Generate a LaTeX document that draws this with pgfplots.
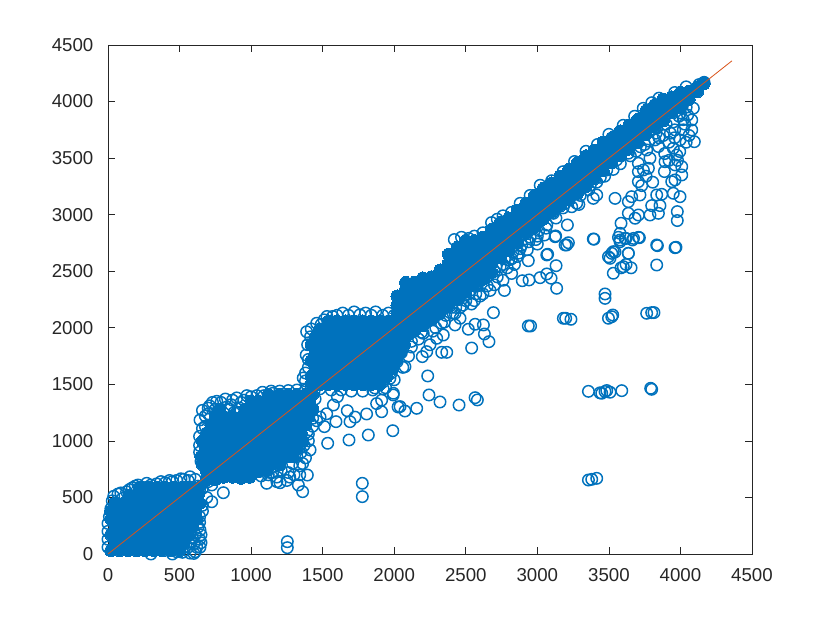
\documentclass[border=0pt]{standalone}
\usepackage{fontspec}
\setmainfont{Liberation Sans}
\usepackage{pgfplots}
\pgfplotsset{compat=1.18}
\definecolor{mblue}{rgb}{0,0.447,0.741}
\definecolor{morange}{rgb}{0.851,0.325,0.098}
\definecolor{axgrey}{rgb}{0.15,0.15,0.15}
\begin{document}
\begin{tikzpicture}
\useasboundingbox (-81pt,-51.75pt) rectangle (541.5pt,415.5pt);
\begin{axis}[
    scale only axis, width=483pt, height=381.75pt,
    xmin=0, xmax=4500, ymin=0, ymax=4500,
    xtick={0,500,...,4500}, ytick={0,500,...,4500},
    tick align=inside, major tick length=5pt,
    axis line style={axgrey, line width=0.5pt},
    every tick/.style={axgrey, line width=0.5pt},
    tick label style={text=axgrey, font=\fontsize{14}{16}\selectfont},
    xticklabel style={yshift=-7.5pt},
    yticklabel style={xshift=-7.5pt},
    /pgf/number format/assume math mode=true,
    /pgf/number format/1000 sep={},
    clip mode=individual,
]
% saturated interior of the cloud, where single circles cannot be told apart: solid marks
\addplot[only marks, mark=*, mark size=4.6pt, mblue, mark options={draw=mblue, fill=mblue, line width=0pt}] coordinates {
(20,30)(80,30)(140,30)(200,30)(260,30)(320,30)(380,30)(440,30)(500,30)
(50,100)(110,100)(170,100)(230,100)(290,100)(350,100)(410,100)(470,100)(530,100)
(20,170)(80,170)(140,170)(200,170)(260,170)(320,170)(380,170)(440,170)(500,170)(560,170)
(50,240)(110,240)(170,240)(230,240)(290,240)(350,240)(410,240)(470,240)(530,240)(590,240)
(20,310)(80,310)(140,310)(200,310)(260,310)(320,310)(380,310)(440,310)(500,310)(560,310)(620,310)
(20,380)(70,380)(130,380)(190,380)(250,380)(310,380)(370,380)(430,380)(490,380)(550,380)(610,380)
(50,450)(110,450)(170,450)(230,450)(290,450)(350,450)(410,450)(470,450)(530,450)(590,450)(640,450)
(150,520)(210,520)(270,520)(330,520)(390,520)(450,520)(510,520)(570,520)(630,520)
(220,590)(280,590)(340,590)(400,590)(460,590)(520,590)(580,590)(640,590)
(690,660)(750,660)(810,680)(870,680)(930,670)(990,680)
(690,730)(750,730)(810,730)(870,730)(930,730)(990,730)(1050,730)(1110,740)
(660,790)(720,790)(780,790)(840,790)(900,790)(960,790)(1020,790)(1080,790)(1140,790)(1200,790)
(650,860)(710,860)(770,860)(830,860)(890,860)(950,860)(1010,860)(1070,860)(1130,860)(1190,860)(1250,860)(1290,860)
(680,930)(740,930)(800,930)(860,930)(920,930)(980,930)(1040,930)(1100,930)(1160,930)(1220,930)(1280,930)(1320,930)
(660,1000)(720,1000)(780,1000)(840,1000)(900,1000)(960,1000)(1020,1000)(1080,1000)(1140,1000)(1200,1000)(1260,1000)(1320,1000)(1360,1000)
(690,1070)(750,1070)(810,1070)(870,1070)(930,1070)(990,1070)(1050,1070)(1110,1070)(1170,1070)(1230,1070)(1290,1070)(1350,1070)
(720,1140)(780,1140)(840,1140)(900,1140)(960,1140)(1020,1140)(1080,1140)(1140,1140)(1200,1140)(1260,1140)(1320,1140)(1380,1140)
(750,1210)(810,1210)(870,1210)(930,1210)(990,1210)(1050,1210)(1110,1210)(1170,1210)(1230,1210)(1290,1210)(1350,1210)(1400,1210)
(780,1280)(960,1280)(1020,1280)(1080,1280)(1140,1280)(1200,1280)(1260,1280)(1320,1280)(1380,1280)(1430,1280)
(1000,1350)(1050,1350)(1110,1350)(1170,1350)(1230,1350)(1290,1350)(1350,1350)(1410,1350)
(1120,1410)(1200,1410)(1260,1410)(1320,1410)(1380,1410)(1430,1410)
(1420,1500)(1480,1500)(1540,1500)(1600,1500)(1660,1500)(1720,1500)(1780,1500)(1840,1500)(1900,1500)
(1420,1570)(1480,1570)(1540,1570)(1600,1570)(1660,1570)(1720,1570)(1780,1570)(1840,1570)(1900,1570)(1950,1570)
(1450,1640)(1510,1640)(1570,1640)(1630,1640)(1690,1640)(1750,1640)(1810,1640)(1870,1640)(1930,1640)(1990,1640)
(1420,1710)(1480,1710)(1540,1710)(1600,1710)(1660,1710)(1720,1710)(1780,1710)(1840,1710)(1900,1710)(1960,1710)(2010,1710)
(1450,1780)(1510,1780)(1570,1780)(1630,1780)(1690,1780)(1750,1780)(1810,1780)(1870,1780)(1930,1780)(1990,1780)(2040,1780)
(1420,1850)(1480,1850)(1540,1850)(1600,1850)(1660,1850)(1720,1850)(1780,1850)(1840,1850)(1900,1850)(1960,1850)(2020,1850)(2070,1850)
(1450,1920)(1510,1920)(1570,1920)(1630,1920)(1690,1920)(1750,1920)(1810,1920)(1870,1920)(1930,1920)(1990,1920)(2050,1920)
(1480,1990)(1560,1990)(1620,1990)(1680,1990)(1740,1990)(1800,1990)(1860,1990)(1920,1990)(1980,1990)(2040,1990)
(1540,2060)(1600,2060)(1660,2060)(1720,2060)(1780,2060)(1840,2060)(1900,2060)(1960,2060)(2020,2060)
(2020,2130)(2020,2200)(2020,2280)
(2080,1920)(2080,1980)(2080,2050)(2080,2120)(2080,2190)(2080,2260)(2080,2340)(2080,2400)
(2140,1970)(2140,2040)(2140,2110)(2140,2180)(2140,2250)(2140,2320)(2140,2400)
(2200,2020)(2200,2090)(2200,2180)(2200,2250)(2200,2320)(2200,2390)(2200,2440)
(2260,2070)(2260,2150)(2260,2240)(2260,2310)(2260,2380)(2260,2450)
(2320,2130)(2320,2210)(2320,2300)(2320,2370)(2320,2440)(2320,2510)
(2380,2190)(2380,2270)(2380,2360)(2380,2430)(2380,2500)(2380,2570)(2380,2650)
(2440,2250)(2440,2330)(2440,2420)(2440,2490)(2440,2560)(2440,2630)(2440,2710)
(2500,2320)(2500,2400)(2500,2490)(2500,2560)(2500,2630)(2500,2700)(2500,2770)
(2560,2380)(2560,2460)(2560,2550)(2560,2620)(2560,2690)(2560,2770)
(2620,2430)(2620,2510)(2620,2600)(2620,2670)(2620,2740)(2620,2800)
(2680,2490)(2680,2570)(2680,2660)(2680,2730)(2680,2800)(2680,2870)
(2740,2620)(2740,2710)(2740,2780)(2740,2850)(2740,2930)
(2800,2680)(2800,2770)(2800,2840)(2800,2910)(2800,2970)
(2860,2750)(2860,2840)(2860,2910)(2860,2980)(2860,3040)
(2920,2830)(2920,2900)(2920,2970)(2920,3040)(2920,3100)
(2980,2890)(2980,2960)(2980,3030)(2980,3100)(2980,3170)
(3040,2960)(3040,3030)(3040,3100)(3040,3170)(3040,3230)
(3100,3020)(3100,3090)(3100,3160)(3100,3230)(3100,3280)
(3160,3080)(3160,3150)(3160,3220)(3160,3290)(3160,3340)
(3220,3130)(3220,3200)(3220,3270)(3220,3340)(3220,3400)
(3280,3190)(3280,3260)(3280,3330)(3280,3400)(3280,3460)
(3340,3250)(3340,3320)(3340,3390)(3340,3460)(3340,3520)
(3400,3320)(3400,3390)(3400,3460)(3400,3530)(3400,3570)
(3460,3390)(3460,3460)(3460,3530)(3460,3600)(3460,3640)
(3520,3460)(3520,3530)(3520,3600)(3520,3680)
(3580,3520)(3580,3590)(3580,3660)(3580,3740)
(3640,3580)(3640,3650)(3640,3720)(3640,3790)
(3700,3640)(3700,3710)(3700,3780)(3700,3840)
(3760,3710)(3760,3780)(3760,3850)(3760,3920)
(3820,3780)(3820,3850)(3820,3920)(3820,3970)
(3880,3830)(3880,3900)(3880,3970)(3880,4020)
(3940,3900)(3940,3970)(3940,4040)
(4000,3950)(4000,4020)(4000,4080)
(4060,4020)(4060,4090)
(4120,4090)(4120,4130)
(4165,4160)
};
% separate points along the edges and below the band
\addplot[only marks, mark=o, mark size=4.3pt, mblue, mark options={draw=mblue, line width=1.1pt}] coordinates {
(0,60)(0,130)(0,200)(0,270)(10,330)(20,400)(30,470)(40,510)(70,530)(100,490)(150,570)(190,600)(240,590)(300,610)(340,620)(400,630)(450,640)(480,650)(530,660)(573,683)(610,660)(630,600)(90,540)(130,550)(170,585)(210,610)(270,625)(370,640)(430,650)(510,665)(560,650)
(660,580)(700,640)(725,610)(725,462)(806,542)(690,500)(660,430)(640,330)(643,212)(643,60)(573,8)(610,20)(520,15)(480,20)(640,130)(600,90)(560,60)(610,170)(590,140)(480,60)(520,50)(560,160)(640,280)(660,380)(630,240)(650,170)(620,60)(580,110)(650,100)
(100,-5)(200,-5)(300,0)(400,-5)(450,0)(520,-5)(600,5)(50,-5)(150,-5)(250,-5)(350,-5)(560,-5)
(1253,109)(1253,56)(1777,625)(1777,507)
(643,1185)(660,1270)(680,1130)(700,1240)(710,1310)(750,1280)(790,1340)(830,1300)(870,1360)(920,1290)(950,1360)(1000,1390)(1090,1400)(1150,1420)(880,1250)(680,1220)(730,1340)(760,1350)(820,1370)(860,1320)(900,1380)(930,1340)(970,1400)(1040,1400)(1080,1430)(1140,1440)(1200,1440)(1260,1445)(1320,1450)(1380,1450)(1440,1440)(700,1290)(850,1280)(910,1250)(1000,1320)
(640,900)(650,820)(700,760)(780,720)(900,690)(990,680)(1060,730)(1109,625)(1202,630)(1330,610)(1360,551)(1393,698)(1412,920)(1380,850)(1340,780)(1260,720)(1180,680)(1120,700)(1250,650)(1300,700)(1360,800)(1400,1000)(1370,960)(1390,1080)(1430,1130)(640,960)(640,1040)(660,1110)(1150,720)(1210,740)(1290,800)(1320,860)(1350,900)(1070,690)(1180,640)(1270,680)(1340,700)(1400,1060)(1430,1200)
(1535,979)(1684,1008)(1819,1052)(1990,1090)(1807,1238)(1691,1170)(1726,1210)(1672,1267)(1593,1170)(1512,1126)(1458,1178)(1482,1210)(1528,1240)(1575,1317)(1603,1391)(1447,1370)(1912,1258)(1877,1330)(1912,1360)(1923,1459)(1865,1468)(1993,1406)(2027,1300)
(1364,1556)(1400,1650)(1385,1760)(1395,1850)(1388,1965)(1415,1920)(1458,2040)(1510,2070)(1570,2100)(1640,2130)(1720,2140)(1800,2130)(1870,2140)(1960,2130)(2040,2130)(1380,1600)(1400,1720)(1420,1990)(1490,2030)(1530,2100)(1600,2110)(1680,2110)(1760,2115)(1840,2110)(1920,2110)(2000,2110)
(1480,1460)(1560,1450)(1630,1450)(1700,1440)(1780,1440)(1850,1450)(1920,1520)(1980,1600)(2020,1700)(2050,1780)(1940,1470)(2000,1540)(2060,1650)(2100,1750)(1380,1530)
(2157,1288)(2075,1264)(2041,1303)(2243,1406)(2320,1344)(2453,1317)(2565,1382)(2581,1362)(2234,1574)(2541,1821)(2662,1877)(2630,1945)(2623,2025)(2565,2031)(2518,1987)(2425,2025)(2367,1783)(2332,1783)(2196,1745)(2227,1789)(2460,2084)(2425,2128)(2297,1907)(2343,1936)(2203,1951)(2075,1656)(1970,1553)(1994,1421)(2693,2134)
(2120,1830)(2170,1900)(2250,1850)(2290,2000)(2350,2050)(2400,2180)(2450,2250)(2520,2300)(2580,2370)(2640,2440)(2700,2500)(2760,2560)(2820,2610)(2880,2700)(2940,2760)(3000,2810)(3060,2880)(2150,2000)(2240,2060)(2310,2120)(2390,2230)(2480,2200)(2560,2240)(2620,2300)(2700,2380)(2760,2420)(2820,2480)(2770,2330)(2840,2560)
(2060,1900)(2110,1950)(2180,2020)(2230,2100)(2280,2140)(2350,2170)(2420,2270)(2470,2320)(2530,2370)(2590,2430)(2650,2490)(2710,2540)(2770,2610)(2830,2670)(2890,2730)(2950,2800)(2030,1960)(2070,2020)
(2120,1880)(2190,1960)(2270,1970)(2360,2110)(2430,2180)(2500,2240)(2570,2300)(2650,2370)(2720,2450)(2790,2530)(2860,2630)(2930,2690)(3000,2740)(2740,2540)(2800,2600)(2870,2660)(2990,2780)(3050,2820)(2410,2130)(2540,2210)(2600,2280)(2670,2330)(2330,2040)(2460,2180)
(2937,2016)(2953,2016)(2895,2416)(2942,2423)(3019,2443)(3066,2476)(3096,2438)(3135,2349)(3072,2650)(3131,2549)(2937,2593)(3128,2812)(3194,2732)(3217,2752)(3391,2785)(3182,2084)(3198,2084)(3235,2075)
(3520,2098)(3497,2084)(3527,2113)(3764,2128)(3799,2134)(3815,2134)(3473,2299)(3473,2260)(3834,2555)(3834,2732)(3962,2708)
(3601,2540)(3531,2482)(3585,2530)(3620,2560)(3655,2530)(3636,2658)(3520,2658)(3508,2614)(3543,2670)(3578,2761)(3613,2790)(3567,2800)(3672,2790)(3707,2800)
(3357,1438)(3450,1421)(3473,1436)(3485,1445)(3508,1430)(3590,1444)(3792,1465)(3799,1456)(3438,1425)(3357,654)(3380,660)(3415,669)
(4097,3645)(4079,3749)(4079,3837)(4090,3941)(4009,3351)(4009,3425)(3997,3159)(3978,3027)(3978,2948)(3969,2712)(3839,2726)
(3950,3189)(3962,3307)(3939,3292)(3888,3381)(3892,3468)(3962,3440)(3974,3527)(3950,3587)(3995,3558)(3997,3661)(4020,3750)(3960,3750)(4020,3840)(3990,3870)(3834,3764)(3822,3661)(3846,3602)(3764,3572)(3787,3499)
(3706,3454)(3741,3395)(3706,3380)(3776,3410)(3760,3340)(3706,3292)(3729,3257)(3806,3287)(3717,3174)(3659,3159)(3636,3115)(3543,3144)(3834,3174)(3869,3180)(3799,3080)(3857,3080)(3846,3012)(3787,2997)(3636,3012)(3706,2997)(3683,2968)(3585,2924)(3578,2835)(3578,2776)(3620,2790)(3665,2776)(3713,2796)(3636,2658)(3531,2673)(3497,2628)(3396,2783)(3210,2909)(3124,2805)(3205,2732)(3066,2644)
(3415,3174)(3391,3144)(3275,3101)(3240,3070)(3194,3101)(3290,3090)(3112,3012)(3066,2909)(3010,2860)(3415,3287)(3370,3260)(3485,3395)(3554,3484)(3636,3543)(3610,3590)(3440,3330)(3300,3170)(3360,3220)(3180,3060)(3130,2970)
(3900,3800)(3930,3720)(4040,3950)(3880,3700)(3830,3720)(3750,3620)(3690,3560)(3950,3820)(4000,3900)(4050,3880)(3920,3640)(3850,3680)(4030,3800)(4060,3700)(3960,3680)(4040,3640)(3890,3540)(3920,3480)(3980,3480)(3780,3650)(3720,3600)(3650,3520)(3580,3450)(3530,3400)(3470,3340)
(2420,2780)(2470,2800)(2560,2810)(2680,2930)(2760,2990)(2880,3100)(3020,3260)(3180,3380)(3340,3560)(3500,3710)(3680,3870)(3800,3990)(3850,4030)(3960,4080)(4040,4130)(4165,4170)(4130,4150)(2520,2790)(2620,2840)(2720,2960)(2820,3020)(2950,3170)(3100,3300)(3260,3470)(3420,3620)(3600,3790)(3740,3940)
};
\addplot[morange, line width=0.6pt] coordinates {(0,0)(4360,4360)};
\end{axis}
\end{tikzpicture}
\end{document}
